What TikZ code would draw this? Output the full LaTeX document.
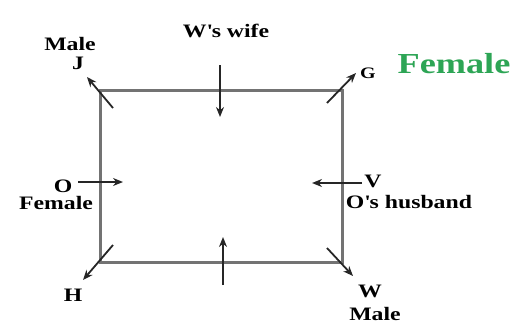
\documentclass[tikz,border=0pt]{standalone}
\usepackage{fontspec}
\setmainfont{Liberation Serif}[FakeStretch=1.25]
\usepackage{xcolor}
\usetikzlibrary{arrows.meta}
\definecolor{femgreen}{RGB}{45,165,85}
\tikzset{lbl/.style={font=\bfseries\fontsize{19}{19}\selectfont,inner sep=0pt},
  pointer/.style={-{Stealth[length=10pt,width=8pt]},line width=1.8pt,black!85}}

\begin{document}
\begin{tikzpicture}[x=1pt,y=-1pt]
\useasboundingbox (0,0) rectangle (518,329);
% the table
\coordinate (nw) at (100,90);
\coordinate (se) at (342,262);
\draw[line width=3pt,black!55](nw)rectangle(se);
% people at the corners
\node[lbl] (maleJ) at (70,44) {Male};
\node[lbl] (J) at (78,63) {J};
\node[lbl,font=\bfseries\fontsize{16}{16}\selectfont] (G) at (368,73) {G};
\node[lbl,femgreen,font=\bfseries\fontsize{29}{29}\selectfont] (femG) at (454,64) {Female};
\node[lbl] (H) at (73,295) {H};
\node[lbl] (W) at (370,291) {W};
\node[lbl] (maleW) at (375,314) {Male};
% people at the sides
\node[lbl] (wife) at (226,31) {W\textquotesingle s wife};
\node[lbl] (O) at (63,186) {O};
\node[lbl] (femO) at (56,203) {Female};
\node[lbl] (V) at (373,181) {V};
\node[lbl] (husband) at (409,202) {O\textquotesingle s husband};
% where each one faces
\coordinate (j0) at (113,108); \coordinate (j1) at (87,77);
\coordinate (g0) at (327,103); \coordinate (g1) at (356,73);
\coordinate (h0) at (113,245); \coordinate (h1) at (83,280);
\coordinate (w0) at (327,248); \coordinate (w1) at (353,276);
\coordinate (t0) at (220,65);  \coordinate (t1) at (220,117);
\coordinate (b0) at (223,285); \coordinate (b1) at (223,237);
\coordinate (o0) at (78,182);  \coordinate (o1) at (123,182);
\coordinate (v0) at (362,183); \coordinate (v1) at (312,183);
\foreach \p in {j,g,h,w,t,b,o,v}
  \draw[pointer](\p0)--(\p1);
\end{tikzpicture}
\end{document}
